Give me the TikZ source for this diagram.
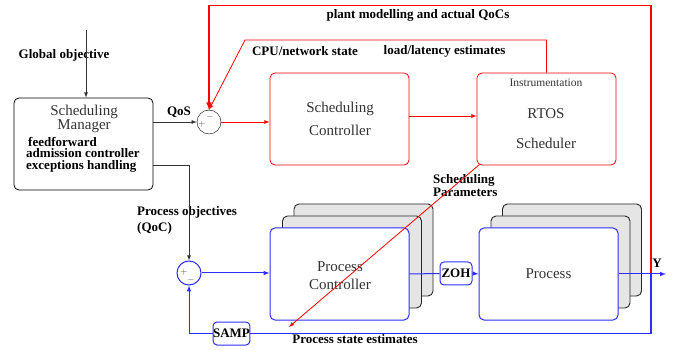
\documentclass[tikz,border=0pt]{standalone}
\usepackage{fontspec}
\setmainfont{Liberation Serif}
\usetikzlibrary{arrows}
\usetikzlibrary{calc}

\definecolor{loopblue}{RGB}{45,45,255}
\definecolor{stackgray}{RGB}{229,229,229}

\begin{document}
\begin{tikzpicture}[x=1pt, y=-1pt, >=latex,
	blk/.style={draw, rounded corners=5pt, minimum width=139pt, minimum height=92pt, inner sep=0pt},
	backblk/.style={blk, draw=black!85, fill=stackgray, line width=0.9pt},
	frontblk/.style={blk, draw=loopblue, fill=white, line width=1pt},
	sumnode/.style={circle, draw, fill=white, minimum size=24pt, inner sep=0pt},
	lbl/.style={font=\fontsize{13}{12}\selectfont\bfseries, inner sep=0pt},
	big/.style={font=\fontsize{15}{18}\selectfont, text=black!80, inner sep=0pt, align=center},
	sign/.style={font=\fontsize{9}{9}\selectfont, text=black!70, inner sep=0pt},
	smallblk/.style={draw=loopblue, line width=1pt, rounded corners=4pt, minimum width=32pt, minimum height=23pt, inner sep=0pt, fill=white, font=\fontsize{13}{13}\selectfont\bfseries}
	]
	\useasboundingbox (0,0) rectangle (673,350);

	% scheduling part
	\node[blk, line width=0.8pt] (mgr) at (83.5,144) {};
	\node[big, font=\fontsize{15}{14}\selectfont] (mgrname) at (84,119) {Scheduling\\Manager};
	\node[lbl, font=\fontsize{13}{11.5}\selectfont\bfseries, anchor=west, align=left] (mgrtasks) at (26,154.5)
		{\hspace{2pt}feedforward\\admission controller\\exceptions handling};
	\node[blk, draw=red, line width=0.8pt] (sctl) at (339.5,119) {};
	\node[big, font=\fontsize{15}{23}\selectfont] (sctlname) at (340,118.5) {Scheduling\\Controller};
	\node[blk, draw=red, line width=0.8pt] (rtos) at (546.5,119) {};
	\node[font=\fontsize{11.5}{12}\selectfont, text=black!80, inner sep=0pt] (instr) at (546,83) {Instrumentation};
	\node[big, font=\fontsize{15}{30}\selectfont] (rtosname) at (546,129) {RTOS\\Scheduler};
	\node[sumnode, draw=black] (sum1) at (209,122) {};
	\node[sign] (sum1p) at ($(sum1)+(-7,2)$) {$+$};
	\node[sign] (sum1m) at ($(sum1)+(1,-5)$) {$-$};

	% control loop
	\node[backblk] (pctl3) at (363.5,250) {};
	\node[backblk] (pctl2) at (352,262) {};
	\node[frontblk] (pctl) at (339.5,274) {};
	\node[big] (pctlname) at (340,276) {Process\\Controller};
	\node[backblk] (proc3) at (572,250) {};
	\node[backblk] (proc2) at (560.5,262) {};
	\node[frontblk, font=\fontsize{15}{18}\selectfont, text=black!80] (proc) at (548.5,274) {Process};
	\node[sumnode, draw=loopblue, line width=1pt] (sum2) at (189,273) {};
	\node[sign] (sum2p) at ($(sum2)+(-5,-1)$) {$+$};
	\node[sign] (sum2m) at ($(sum2)+(2,7)$) {$-$};

	% labels
	\node[lbl] (globlbl) at (64,55) {Global objective};
	\node[lbl] (qoslbl) at (179,112) {QoS};
	\node[lbl] (cpulbl) at (305,51) {CPU/network state};
	\node[lbl] (loadlbl) at (444.5,51) {load/latency estimates};
	\node[lbl] (plantlbl) at (418,15) {plant modelling and actual QoCs};
	\node[lbl, font=\fontsize{13}{11}\selectfont\bfseries, anchor=west, align=left] (paramlbl) at (433,185.5) {Scheduling\\Parameters};
	\node[lbl, font=\fontsize{13}{16}\selectfont\bfseries, anchor=west, align=left] (objlbl) at (137,220) {Process objectives\\(QoC)};
	\node[lbl] (statelbl) at (355,339) {Process state estimates};
	\node[lbl] (ylbl) at (657,263) {Y};

	\coordinate (gtop) at (86,30);
	\coordinate (cpuknee) at (245,40);
	\coordinate (plantknee) at (651,5.5);
	\coordinate (sampknee) at (651,333.5);
	\coordinate (sampc) at (231.5,333.5);
	\coordinate (yout) at (666,274);
	\coordinate (paramend) at (289,327);

	% black connections
	\path[->, color=black!80, line width=0.8pt]
	(gtop) edge (gtop |- mgr.north)
	(mgr.east |- sum1) edge (sum1.west)
	;
	\draw[->, black!80, line width=0.8pt] ($(mgr.east)+(0,21)$) -| (sum2.north);

	% red connections
	\path[->, color=red, line width=0.8pt]
	(sum1.east) edge (sum1.east -| sctl.west)
	($(sctl.east)+(0,-3)$) edge ($(rtos.west)+(0,-3)$)
	($(rtos.south west)+(3,-1)$) edge (paramend)
	;
	\draw[->, red, line width=0.8pt] (rtos.north) |- (cpuknee) -- (sum1.north);
	\draw[->, red, line width=1.5pt] (plantknee |- yout) -- (plantknee) -- (sum1.north |- plantknee) -- (sum1.north);

	% blue connections
	\path[->, color=loopblue, line width=1pt]
	(sum2.east) edge (sum2.east -| pctl.west)
	(proc.east) edge (yout)
	;
	\node[smallblk] (zoh) at (456,273.5) {ZOH};
	\draw[loopblue, line width=1pt] (pctl.east) -- (zoh.west);
	\draw[->, loopblue, line width=1pt] (zoh.east) -- (proc.west);
	\draw[loopblue, line width=1.5pt] (plantknee |- yout) -- (sampknee) -- (sampc);
	\node[smallblk] (samp) at (sampc) {SAMP};
	\draw[->, loopblue, line width=1pt] (samp.west) -| (sum2.south);
\end{tikzpicture}
\end{document}
